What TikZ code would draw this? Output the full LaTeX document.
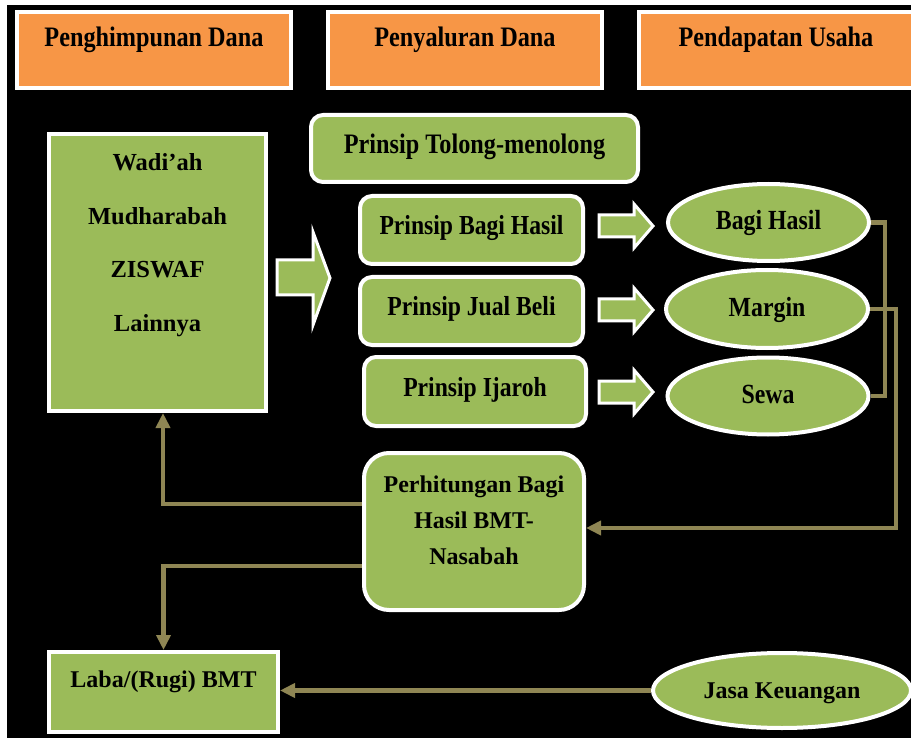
\documentclass[tikz,border=0pt]{standalone}
\usepackage{fontspec}
\setmainfont{Liberation Serif}
\newfontfamily\condfont{Liberation Serif}[FakeStretch=0.86]
\usetikzlibrary{shapes.geometric, arrows.meta, positioning, calc}

\definecolor{headorange}{RGB}{247,150,70}
\definecolor{boxgreen}{RGB}{155,187,89}
\definecolor{linkolive}{RGB}{143,134,84}

\begin{document}
\begin{tikzpicture}[
  x=1pt, y=-1pt,
  every node/.style={align=center, inner sep=0pt, font=\fontsize{24}{28}\selectfont\bfseries},
  headbox/.style={rectangle, draw=white, fill=headorange, line width=4pt,
    minimum width=274pt, text height=35pt, text depth=41pt,
    font=\fontsize{28.2}{32}\condfont\bfseries},
  sqbox/.style={rectangle, draw=white, fill=boxgreen, line width=4pt},
  prinbox/.style={rectangle, rounded corners=12pt, draw=white, fill=boxgreen, line width=4pt,
    text height=19pt, text depth=9pt, font=\fontsize{27.5}{32}\condfont\bfseries},
  incbox/.style={ellipse, draw=white, fill=boxgreen, line width=4pt,
    text height=20pt, text depth=5pt, font=\fontsize{27.7}{32}\condfont\bfseries},
  blockarrow/.style={fill=boxgreen, draw=white, line width=3pt, line join=miter},
  link/.style={draw=linkolive, line width=4.5pt},
  linkarrow/.style={link, -{Triangle[width=14pt,length=15pt]}}
]
\useasboundingbox (0,0) rectangle (911,738);
\fill[white] (0,0) rectangle (911,738);
\fill[black] (7,5) rectangle (911,738);

% column headers
\node[headbox] (headfund) at (154,50) {Penghimpunan Dana};
\node[headbox] (headdist) at (465,50) {Penyaluran Dana};
\node[headbox] (headincome) at (776,50) {Pendapatan Usaha};

% funding and result
\node[sqbox, minimum width=217pt, minimum height=277pt,
  label={[anchor=north, yshift=-21.4pt, font=\fontsize{24.5}{53.7}\selectfont\bfseries]north:{Wadi’ah\\Mudharabah\\ZISWAF\\Lainnya}}] (funds) at (157.5,272.5) {};
\node[sqbox, minimum width=229pt, text height=35pt, text depth=45pt] (laba) at (163.5,692) {Laba/(Rugi) BMT};

% distribution principles
\node[prinbox, minimum width=327pt, minimum height=67pt, font=\fontsize{28.2}{32}\condfont\bfseries] (tolong) at (474.5,148.5) {Prinsip Tolong-menolong};
\node[prinbox, minimum width=223pt, minimum height=68pt] (bagiprin) at (471.5,230) {Prinsip Bagi Hasil};
\node[prinbox, minimum width=223pt, minimum height=68pt] (jualprin) at (471.5,311) {Prinsip Jual Beli};
\node[prinbox, minimum width=222pt, minimum height=69pt] (ijarohprin) at (475,391.5) {Prinsip Ijaroh};

% income
\node[incbox, minimum width=201pt, minimum height=77pt] (bagi) at (768.5,222.5) {Bagi Hasil};
\node[incbox, minimum width=202pt, minimum height=78pt] (margin) at (767,309) {Margin};
\node[incbox, minimum width=201pt, minimum height=77pt] (sewa) at (768,396) {Sewa};

% profit sharing
\node[prinbox, rounded corners=25pt, minimum width=220pt, minimum height=157pt,
  label={[anchor=north, yshift=-24.8pt, font=\fontsize{24}{36}\selectfont\bfseries]north:{Perhitungan Bagi\\Hasil BMT-\\Nasabah}}] (sharing) at (474,531.5) {};
\node[incbox, minimum width=258pt, minimum height=75pt, font=\fontsize{24}{28}\selectfont\bfseries] (jasa) at (782,690.5) {Jasa Keuangan};

% block arrows
\draw[blockarrow] (277,260) -- (313,260) -- (313,232) -- (330,278) -- (313,325) -- (313,295) -- (277,295) -- cycle;
\foreach \y in {226,310,392}
  \draw[blockarrow] (599,\y-11) -- (634,\y-11) -- (634,\y-22) -- (653,\y) -- (634,\y+22) -- (634,\y+11) -- (599,\y+11) -- cycle;

% connectors
\draw[link] (bagi.east) -- ++(14,0) |- (sewa.east);
\draw[linkarrow] (margin.east) -- ++(26,0) |- ([yshift=3.5pt]sharing.east);
\draw[linkarrow] ([yshift=27.5pt]sharing.west) -| ([xshift=5.5pt]funds.south);
\draw[linkarrow] ([yshift=-34.5pt]sharing.west) -| (laba.north);
\draw[linkarrow] (jasa.west) -- (jasa.west -| laba.east);
\end{tikzpicture}
\end{document}
